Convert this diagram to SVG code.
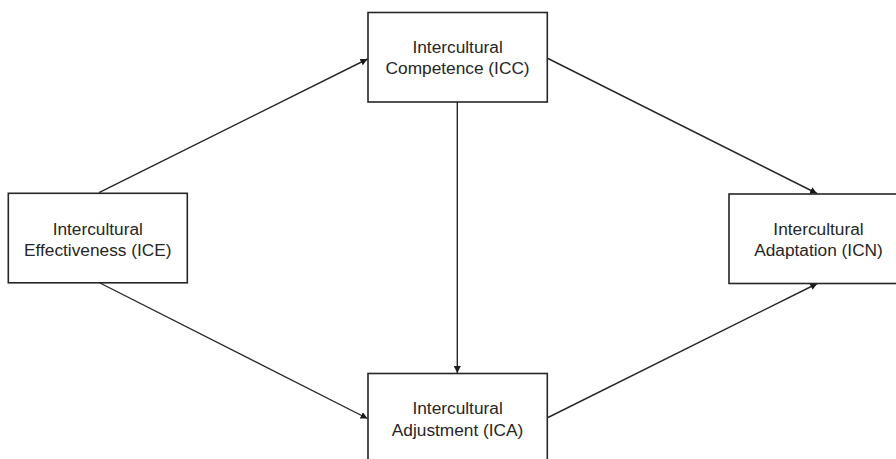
<svg xmlns="http://www.w3.org/2000/svg" width="896" height="459" viewBox="0 0 896 459">
<style>
.box{fill:#fff;stroke:#262626;stroke-width:1.6}
.lbl{font-family:"Liberation Sans",Arial,sans-serif;font-size:17.3px;fill:#262626;text-anchor:middle}
.edge{stroke:#262626;stroke-width:1.4;fill:none;marker-end:url(#arr)}
</style>
<defs>
<marker id="arr" viewBox="0 0 10 10" refX="10" refY="5" markerWidth="7" markerHeight="7" markerUnits="userSpaceOnUse" orient="auto">
<path d="M0,0 L10,5 L0,10 z" fill="#1a1a1a"/>
</marker>
</defs>
<rect width="896" height="459" fill="#fff"/>
<g id="connectors">
<line class="edge" x1="99" y1="192.7" x2="367.5" y2="59"/>
<line class="edge" x1="548" y1="58.5" x2="817" y2="193.5"/>
<line class="edge" x1="457.3" y1="102" x2="457.3" y2="373"/>
<line class="edge" x1="100" y1="283" x2="367.5" y2="418.5"/>
<line class="edge" x1="548" y1="417.5" x2="817.3" y2="283.5"/>
</g>
<g id="ICC">
<rect class="box" x="368" y="12.5" width="179.3" height="89.5"/>
<text class="lbl" x="457.6" y="53.3">Intercultural</text>
<text class="lbl" x="457.6" y="74.3">Competence (ICC)</text>
</g>
<g id="ICE">
<rect class="box" x="8.3" y="193.3" width="179" height="89.5"/>
<text class="lbl" x="97.8" y="235">Intercultural</text>
<text class="lbl" x="97.8" y="256">Effectiveness (ICE)</text>
</g>
<g id="ICN">
<rect class="box" x="729" y="194" width="179" height="89.5"/>
<text class="lbl" x="818.5" y="235">Intercultural</text>
<text class="lbl" x="818.5" y="256">Adaptation (ICN)</text>
</g>
<g id="ICA">
<rect class="box" x="368" y="373.5" width="179.3" height="90"/>
<text class="lbl" x="457.6" y="414">Intercultural</text>
<text class="lbl" x="457.6" y="436">Adjustment (ICA)</text>
</g>
</svg>
